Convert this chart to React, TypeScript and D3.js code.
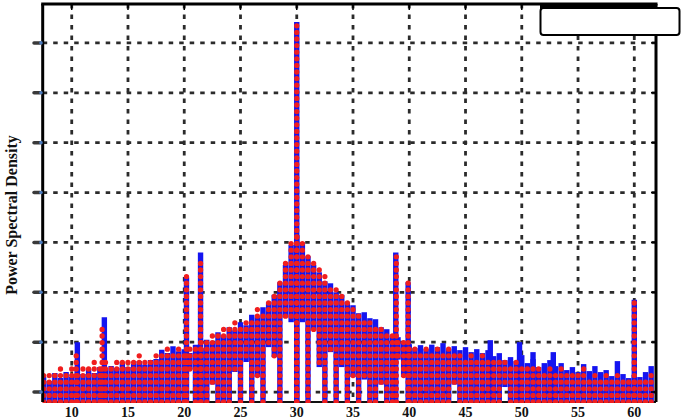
import React from 'react';
import * as d3 from 'd3';

// frequency bins (Hz) of the broadband part of the spectrum
const freqs = [
  7.5, 8, 8.5, 9, 9.5, 10, 10.5, 11, 11.5, 12,
  12.5, 13, 13.5, 14, 14.5, 15, 15.5, 16, 16.5, 17,
  17.5, 18, 18.5, 19, 19.5, 20, 20.5, 21, 21.5, 22,
  22.5, 23, 23.5, 24, 24.5, 25, 25.5, 26, 26.5, 27,
  27.5, 28, 28.5, 29, 29.5, 30, 30.5, 31, 31.5, 32,
  32.5, 33, 33.5, 34, 34.5, 35, 35.5, 36, 36.5, 37,
  37.5, 38, 38.5, 39, 39.5, 40, 40.5, 41, 41.5, 42,
  42.5, 43, 43.5, 44, 44.5, 45, 45.5, 46, 46.5, 47,
  47.5, 48, 48.5, 49, 49.5, 50, 50.5, 51, 51.5, 52,
  52.5, 53, 53.5, 54, 54.5, 55, 55.5, 56, 56.5, 57,
  57.5, 58, 58.5, 59, 59.5, 60, 60.5, 61, 61.5,
];

// upper level of each trace per bin (grid units)
const blueTop = [
  0.30, 0.22, 0.38, 0.28, 0.40, 0.30, 0.48, 0.36, 0.46, 0.38,
  0.50, 0.44, 0.52, 0.48, 0.60, 0.50, 0.56, 0.62, 0.55, 0.64,
  0.66, 0.85, 0.78, 0.92, 0.82, 0.86, 0.78, 0.95, 0.88, 1.05,
  1.00, 1.20, 1.12, 1.30, 1.24, 1.40, 1.34, 1.55, 1.50, 1.70,
  1.80, 1.95, 2.20, 2.55, 2.95, 3.15, 3.00, 2.72, 2.55, 2.40,
  2.22, 2.18, 2.00, 1.95, 1.80, 1.74, 1.58, 1.60, 1.48, 1.46,
  1.30, 1.26, 1.12, 1.10, 0.98, 0.96, 0.88, 0.94, 0.86, 0.95,
  0.90, 0.98, 0.86, 0.92, 0.84, 0.90, 0.80, 0.86, 0.78, 0.84,
  0.72, 0.78, 0.64, 0.70, 0.62, 0.74, 0.58, 0.66, 0.50, 0.58,
  0.64, 0.52, 0.58, 0.44, 0.50, 0.40, 0.56, 0.42, 0.52, 0.40,
  0.44, 0.32, 0.62, 0.36, 0.28, 0.34, 0.30, 0.40, 0.52,
];

const redTop = [
  0.38, 0.44, 0.36, 0.48, 0.40, 0.52, 0.42, 0.58, 0.50, 0.62,
  0.55, 0.66, 0.56, 0.70, 0.62, 0.72, 0.60, 0.74, 0.66, 0.70,
  0.78, 0.76, 0.86, 0.78, 0.92, 0.84, 0.98, 0.90, 1.08, 1.00,
  1.18, 1.14, 1.32, 1.26, 1.40, 1.36, 1.52, 1.48, 1.66, 1.62,
  1.90, 1.98, 2.28, 2.62, 3.02, 3.22, 3.08, 2.78, 2.62, 2.45,
  2.32, 2.16, 2.12, 1.94, 1.86, 1.68, 1.62, 1.48, 1.50, 1.34,
  1.36, 1.20, 1.22, 1.06, 1.08, 0.98, 0.92, 0.82, 0.88, 0.78,
  0.88, 0.78, 0.86, 0.76, 0.80, 0.70, 0.82, 0.68, 0.76, 0.66,
  0.70, 0.62, 0.66, 0.54, 0.62, 0.52, 0.58, 0.48, 0.50, 0.40,
  0.56, 0.44, 0.48, 0.36, 0.42, 0.34, 0.48, 0.32, 0.44, 0.30,
  0.36, 0.26, 0.40, 0.28, 0.30, 0.24, 0.32, 0.26, 0.34,
];

// lower level reached by each trace per bin (-0.2 = bottom of the plot)
const blueLow = [
  -0.2, -0.2, -0.2, -0.2, -0.2, -0.2, -0.2, -0.2, -0.2, -0.2,
  -0.2, -0.2, -0.2, -0.2, -0.2, -0.2, -0.2, -0.2, -0.2, -0.2,
  -0.2, -0.2, -0.2, -0.2, -0.2, -0.2, 0.45, -0.2, -0.2, -0.2,
  0.15, -0.2, -0.2, -0.2, 0.40, -0.2, 0.60, -0.2, 0.30, -0.2,
  0.90, 0.70, -0.2, 1.50, 1.40, -0.2, 1.40, -0.2, 1.25, 0.50,
  -0.2, 0.80, -0.2, 0.50, -0.2, 0.30, -0.2, 0.25, -0.2, -0.2,
  0.15, -0.2, -0.2, 0.65, 0.30, -0.2, -0.2, -0.2, -0.2, -0.2,
  -0.2, -0.2, -0.2, 0.15, -0.2, -0.2, -0.2, -0.2, -0.2, -0.2,
  -0.2, -0.2, 0.10, -0.2, -0.2, -0.2, -0.2, -0.2, -0.2, -0.2,
  -0.2, -0.2, -0.2, -0.2, -0.2, -0.2, -0.2, -0.2, -0.2, -0.2,
  -0.2, -0.2, -0.2, -0.2, -0.2, -0.2, -0.2, -0.2, -0.2,
];

const redLow = [
  -0.2, -0.2, -0.2, -0.2, -0.2, -0.2, -0.2, -0.2, -0.2, -0.2,
  -0.2, -0.2, -0.2, -0.2, -0.2, -0.2, -0.2, -0.2, -0.2, -0.2,
  -0.2, -0.2, -0.2, -0.2, -0.2, -0.2, 0.45, -0.2, -0.2, -0.2,
  0.15, -0.2, -0.2, -0.2, 0.40, -0.2, 0.60, -0.2, 0.30, -0.2,
  0.90, 0.70, -0.2, 1.50, 1.40, -0.2, 1.40, -0.2, 1.25, 0.50,
  -0.2, 0.80, -0.2, 0.50, -0.2, 0.30, -0.2, 0.25, -0.2, -0.2,
  0.15, -0.2, -0.2, 0.65, 0.30, -0.2, -0.2, -0.2, -0.2, -0.2,
  -0.2, -0.2, -0.2, 0.15, -0.2, -0.2, -0.2, -0.2, -0.2, -0.2,
  -0.2, -0.2, 0.10, -0.2, -0.2, -0.2, -0.2, -0.2, -0.2, -0.2,
  -0.2, -0.2, -0.2, -0.2, -0.2, -0.2, -0.2, -0.2, -0.2, -0.2,
  -0.2, -0.2, -0.2, -0.2, -0.2, -0.2, -0.2, -0.2, -0.2,
];

// narrow spectral lines
const bluePeakFreq = [10.5, 12.9, 20.2, 21.45, 30.0, 38.8, 39.9, 47.2, 49.8, 51.0, 52.8, 60.0];
const bluePeakVal = [1.0, 1.5, 2.3, 2.8, 7.42, 2.8, 2.2, 1.04, 1.0, 0.8, 0.8, 1.85];
const redPeakFreq = [10.4, 12.7, 20.2, 21.45, 30.0, 38.85, 39.9, 60.0];
const redPeakVal = [0.8, 1.38, 2.4, 2.6, 7.46, 2.75, 2.3, 1.9];

const xTicks = [10, 15, 20, 25, 30, 35, 40, 45, 50, 55, 60];
const yTicks = [0, 1, 2, 3, 4, 5, 6, 7];

const W = 685;
const H = 419;
const left = 42.7;
const right = 656;
const top = 4;
const bottom = 402;

const x = d3.scaleLinear().domain([7.42, 61.93]).range([left, right]);
const y = d3.scaleLinear().domain([-0.2, 7.8]).range([bottom, 3]);

const BLUE = '#1414f0';
const RED = '#f01e1e';
const DOT = 6.6;

type Stem = { f: number; lo: number; hi: number };

const blueStems: Stem[] = [
  ...freqs.map((f, i) => ({ f, lo: blueLow[i], hi: blueTop[i] })),
  ...bluePeakFreq.map((f, i) => ({ f, lo: -0.2, hi: bluePeakVal[i] })),
];
const redStems: Stem[] = [
  ...freqs.map((f, i) => ({ f, lo: redLow[i], hi: redTop[i] })),
  ...redPeakFreq.map((f, i) => ({ f, lo: -0.2, hi: redPeakVal[i] })),
];

export default function App() {
  return (
    <svg
      width={W}
      height={H}
      style={{ position: 'absolute', left: 0, top: 0, background: '#fff' }}
      fontFamily="'Liberation Serif', 'DejaVu Serif', serif"
    >
      <defs>
        <clipPath id="plot">
          <rect x={left} y={top} width={right - left} height={bottom - top + 1} />
        </clipPath>
      </defs>
      <rect width={W} height={H} fill="#fff" />

      {/* grid */}
      <g stroke="#2b2b2b" strokeWidth={2.8} strokeDasharray="4.5 6">
        {yTicks.map((t) => (
          <line key={'h' + t} x1={left} x2={right} y1={y(t)} y2={y(t)} />
        ))}
        {xTicks.map((t) => (
          <line key={'v' + t} x1={x(t)} x2={x(t)} y1={top} y2={bottom} />
        ))}
      </g>

      <line x1={left} x2={right} y1={bottom} y2={bottom} stroke="#111" strokeWidth={2} />

      {/* traces: blue bars, red dotted stems on top */}
      <g clipPath="url(#plot)">
        {blueStems.map((s, i) => (
          <line
            key={'b' + i}
            x1={x(s.f)}
            x2={x(s.f)}
            y1={y(s.lo)}
            y2={y(s.hi)}
            stroke={BLUE}
            strokeWidth={5.4}
          />
        ))}
        {redStems.map((s, i) => {
          const off = (bottom - y(s.lo)) % DOT;
          return (
            <line
              key={'r' + i}
              x1={x(s.f)}
              x2={x(s.f)}
              y1={y(s.lo)}
              y2={y(s.hi)}
              stroke={RED}
              strokeWidth={5.3}
              strokeLinecap="round"
              strokeDasharray={`0 ${DOT}`}
              strokeDashoffset={off}
            />
          );
        })}
      </g>

      {/* frame */}
      <g stroke="#000" strokeWidth={3} fill="none">
        <line x1={left} x2={left} y1={top} y2={bottom} />
        <line x1={right} x2={right} y1={top} y2={bottom} />
        <line x1={left - 1.5} x2={right + 1.5} y1={top} y2={top} />
      </g>
      <g stroke="#000" strokeWidth={1.5}>
        {xTicks.map((t) => (
          <line key={'tt' + t} x1={x(t)} x2={x(t)} y1={top} y2={top + 6} />
        ))}
        {yTicks.map((t) => (
          <line key={'rt' + t} x1={right - 5} x2={right} y1={y(t)} y2={y(t)} />
        ))}
      </g>

      {/* y ticks (labels unreadable in source) */}
      {yTicks.map((t) => (
        <g key={'yt' + t}>
          <line x1={34} x2={40} y1={y(t)} y2={y(t)} stroke="#3a3a3a" strokeWidth={3.5} strokeLinecap="round" />
          <circle cx={41} cy={y(t)} r={1.8} fill="#4d7bbd" />
        </g>
      ))}

      {/* x labels */}
      <g fontSize={14} fontWeight="bold" textAnchor="middle" fill="#111">
        {xTicks.map((t) => (
          <text key={'xl' + t} x={x(t)} y={417}>
            {t}
          </text>
        ))}
      </g>

      <text
        transform="translate(17,215) rotate(-90)"
        textAnchor="middle"
        fontSize={16}
        fontWeight="bold"
        fill="#111"
      >
        Power Spectral Density
      </text>

      {/* empty legend box */}
      <rect x={540} y={3} width={116} height={7} fill="#000" />
      <rect x={540.5} y={8} width={139} height={27} rx={3} fill="#fff" stroke="#000" strokeWidth={2} />
    </svg>
  );
}
